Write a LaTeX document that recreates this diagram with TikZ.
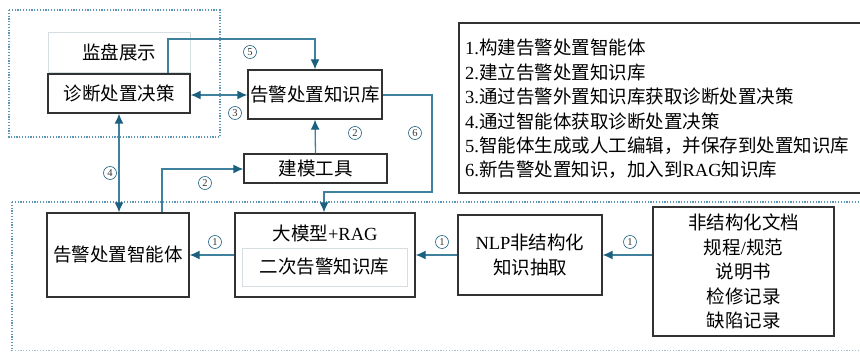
\documentclass[tikz,border=0pt]{standalone}
\usepackage{fontspec}
\setmainfont{Liberation Serif}
\newfontfamily\cjk{Noto Sans CJK SC}
\usetikzlibrary{arrows.meta,positioning}
\definecolor{lnc}{RGB}{62,128,158}
\definecolor{arc}{RGB}{28,96,128}
\definecolor{dotc}{RGB}{90,150,180}
\definecolor{boxc}{RGB}{50,50,50}
\definecolor{lightc}{RGB}{215,222,226}
\newcommand\zhs[1]{{\cjk #1}}
\tikzset{
  bx/.style={draw=boxc, line width=1.3pt, minimum width=#1, inner sep=0pt, font=\fontsize{18.5}{24.5}\selectfont, align=center},
  lbx/.style={draw=lightc, line width=0.8pt, inner sep=0pt, font=\fontsize{18.5}{24.5}\selectfont, align=center},
  con/.style={draw=lnc, line width=1.3pt},
  tip/.style={-{Latex[length=10pt,width=9pt,color=arc]}},
  dtip/.style={{Latex[length=10pt,width=9pt,color=arc]}-{Latex[length=10pt,width=9pt,color=arc]}},
  num/.style={circle, draw=arc, line width=0.6pt, inner sep=0pt, minimum size=13pt, text=black!80, font=\fontsize{10.5}{11}\selectfont},
  dotbox/.style={draw=dotc, line width=1.2pt, dash pattern=on 1.2pt off 1.6pt}
}
\begin{document}
\begin{tikzpicture}[x=1pt,y=-1pt]
\useasboundingbox (0,0) rectangle (860,352);
% dotted group boxes
\draw[dotbox] (9,10) rectangle (220,137);
\draw[dotbox] (12,202) -- (880,202);
\draw[dotbox] (12,202) -- (12,351);
\draw[draw=lightc!60!dotc, line width=1pt, dash pattern=on 1.2pt off 1.6pt] (12,351) -- (880,351);
% nodes
\node[lbx, minimum width=142pt, minimum height=40pt] (jp) at (119,52) {\zhs{监盘展示}};
\node[bx=142pt, minimum height=39pt] (zd) at (119,93.5) {\zhs{诊断处置决策}};
\node[bx=134pt, minimum height=49pt] (kb) at (315,94.5) {\zhs{告警处置知识库}};
\node[bx=143pt, minimum height=29pt] (jm) at (315.5,168.5) {\zhs{建模工具}};
\node[bx=142pt, minimum height=84pt] (zn) at (118,255) {\zhs{告警处置智能体}};
\node[bx=180pt, minimum height=84pt] (dm) at (325,255) {};
\node[font=\fontsize{18.5}{24.5}\selectfont, inner sep=0pt] (dmt) at (325,233) {\zhs{大模型}+RAG};
\node[lbx, minimum width=165pt, minimum height=38pt] (ec) at (324.5,267) {\zhs{二次告警知识库}};
\node[bx=144pt, minimum height=80pt] (nlp) at (530,255) {NLP\zhs{非结构化}\\\zhs{知识抽取}};
\node[bx=181pt, minimum height=129pt] (doc) at (743.5,271.5) {\zhs{非结构化文档}\\\zhs{规程}/\zhs{规范}\\\zhs{说明书}\\\zhs{检修记录}\\\zhs{缺陷记录}};
% legend
\draw[draw=boxc, line width=1.3pt] (459,23) rectangle (880,193);
\node[anchor=west, align=left, inner sep=0pt, font=\fontsize{18.5}{24.4}\selectfont] (leg) at (465,109) {%
1.\zhs{构建告警处置智能体}\\
2.\zhs{建立告警处置知识库}\\
3.\zhs{通过告警外置知识库获取诊断处置决策}\\
4.\zhs{通过智能体获取诊断处置决策}\\
5.\zhs{智能体生成或人工编辑，并保存到处置知识库}\\
6.\zhs{新告警处置知识，加入到}RAG\zhs{知识库}};
% coordinates
\coordinate (p5a) at (168,39);
\coordinate (p6a) at (432,95);
\coordinate (p6b) at (432,192);
\coordinate (p6c) at (324,192);
\coordinate (p2a) at (162,169);
% connectors
\draw[con,tip] (zd.north -| p5a) -- (p5a) -| (kb.north);
\draw[con,dtip] (zd.east |- 0,95) -- (kb.west |- 0,95);
\draw[con,tip] (jm.north) -- (kb.south);
\draw[con,tip] (kb.east |- p6a) -- (p6a) -- (p6b) -- (p6c) -- (dm.north -| p6c);
\draw[con,dtip] (zd.south) -- (zn.north -| zd.south);
\draw[con,tip] (zn.north -| p2a) -- (p2a) -- (jm.west |- p2a);
\draw[con,tip] (dm.west) -- (zn.east);
\draw[con,tip] (nlp.west) -- (dm.east);
\draw[con,tip] (doc.west |- nlp.east) -- (nlp.east);
% labels
\node[num] (n5) at (250,52) {5};
\node[num] (n3) at (235,113) {3};
\node[num] (n2a) at (355,133) {2};
\node[num] (n6) at (415,133) {6};
\node[num] (n4) at (110,173) {4};
\node[num] (n2b) at (205,183) {2};
\node[num] (n1a) at (215,242) {1};
\node[num] (n1b) at (442,242) {1};
\node[num] (n1c) at (630,242) {1};
\end{tikzpicture}
\end{document}
